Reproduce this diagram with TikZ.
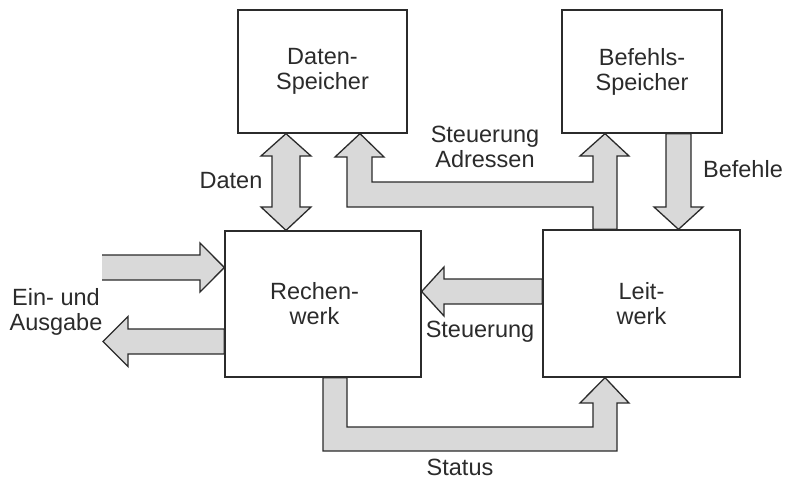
\documentclass[tikz,border=0pt]{standalone}
\usepackage{fontspec}
\setmainfont{Liberation Sans}
\definecolor{ink}{HTML}{2B2B2B}
\definecolor{pipefill}{HTML}{D9D9D9}
\begin{document}
\begin{tikzpicture}[x=1pt,y=-1pt,
  every node/.style={font=\fontsize{23.5}{25}\selectfont, text=ink},
  unit/.style={draw=ink, line width=1.3pt, fill=white, align=center, inner sep=0pt},
  lbl/.style={align=center, inner sep=0pt},
  pipe/.style={fill=pipefill, draw=ink, line width=1.3pt, line join=miter}]

\fill[white] (0,0) rectangle (790,479);
\useasboundingbox (0,0) rectangle (790,479);

% functional units
\node[unit, minimum width=169pt, minimum height=123pt] (ds) at (322.5,71.5) {Daten-\\Speicher};
\node[unit, minimum width=160pt, minimum height=123pt] (bs) at (642,71.5) {Befehls-\\Speicher};
\node[unit, minimum width=196pt, minimum height=146pt] (rw) at (323,304)
  {Rechen-\hspace*{17pt}\\werk\hspace*{17pt}};
\node[unit, minimum width=197pt, minimum height=147pt] (lw) at (641.5,303.5) {Leit-\\werk};

% data path between memory and arithmetic unit (double arrow)
\draw[pipe] (286,0 |- ds.south) -- (311,156) -- (300,156) -- (300,207) -- (311,207)
  -- (286,0 |- rw.north) -- (261,207) -- (272,207) -- (272,156) -- (261,156) -- cycle;

% control / address bus from control unit to both memories
\draw[pipe] (617,0 |- lw.north) -- (617,156) -- (629,156) -- (605,0 |- bs.south)
  -- (580,156) -- (593,156) -- (593,182) -- (372,182) -- (372,157) -- (384,157)
  -- (360,0 |- ds.south) -- (335,157) -- (347,157) -- (347,207) -- (593,207)
  -- (593,0 |- lw.north) -- cycle;

% instructions into the control unit
\draw[pipe] (666,0 |- bs.south) -- (666,207) -- (654,207) -- (678.5,0 |- lw.north)
  -- (703,207) -- (691,207) -- (691,0 |- bs.south) -- cycle;

% input (open tail on the left)
\coordinate (inTail) at (102,267.5);
\fill[pipefill] (inTail |- 0,255) -- (200,255) -- (200,243) -- (rw.west |- 0,267.5)
  -- (200,292) -- (200,280) -- (inTail |- 0,280) -- cycle;
\draw[ink, line width=1.3pt, line join=miter] (inTail |- 0,255) -- (200,255) -- (200,243)
  -- (rw.west |- 0,267.5) -- (200,292) -- (200,280) -- (inTail |- 0,280);

% output
\draw[pipe] (rw.west |- 0,329) -- (128,329) -- (128,316.5) -- (103,341.5) -- (128,366.5)
  -- (128,354) -- (rw.west |- 0,354) -- cycle;

% control from control unit to arithmetic unit
\draw[pipe] (lw.west |- 0,279) -- (444,279) -- (444,267) -- (rw.east |- 0,291.5)
  -- (444,316) -- (444,304) -- (lw.west |- 0,304) -- cycle;

% status back to the control unit
\draw[pipe] (323,0 |- rw.south) -- (323,451) -- (617,451) -- (617,403) -- (629,403)
  -- (605,0 |- lw.south) -- (580,403) -- (593,403) -- (593,427) -- (347,427)
  -- (347,0 |- rw.south) -- cycle;

% labels
\node[lbl, anchor=base] (lDaten) at (231,188) {Daten};
\node[lbl] (lAdr) at (485,147) {Steuerung\\Adressen};
\node[lbl, anchor=base] (lBef) at (743,177) {Befehle};
\node[lbl, text depth=0pt] (lIO) at (56,309) {\fontsize{23.5}{24}\selectfont Ein- und\\Ausgabe};
\node[lbl, anchor=base] (lSt) at (480,337) {Steuerung};
\node[lbl, anchor=base] (lStatus) at (460,475) {Status};
\end{tikzpicture}
\end{document}
